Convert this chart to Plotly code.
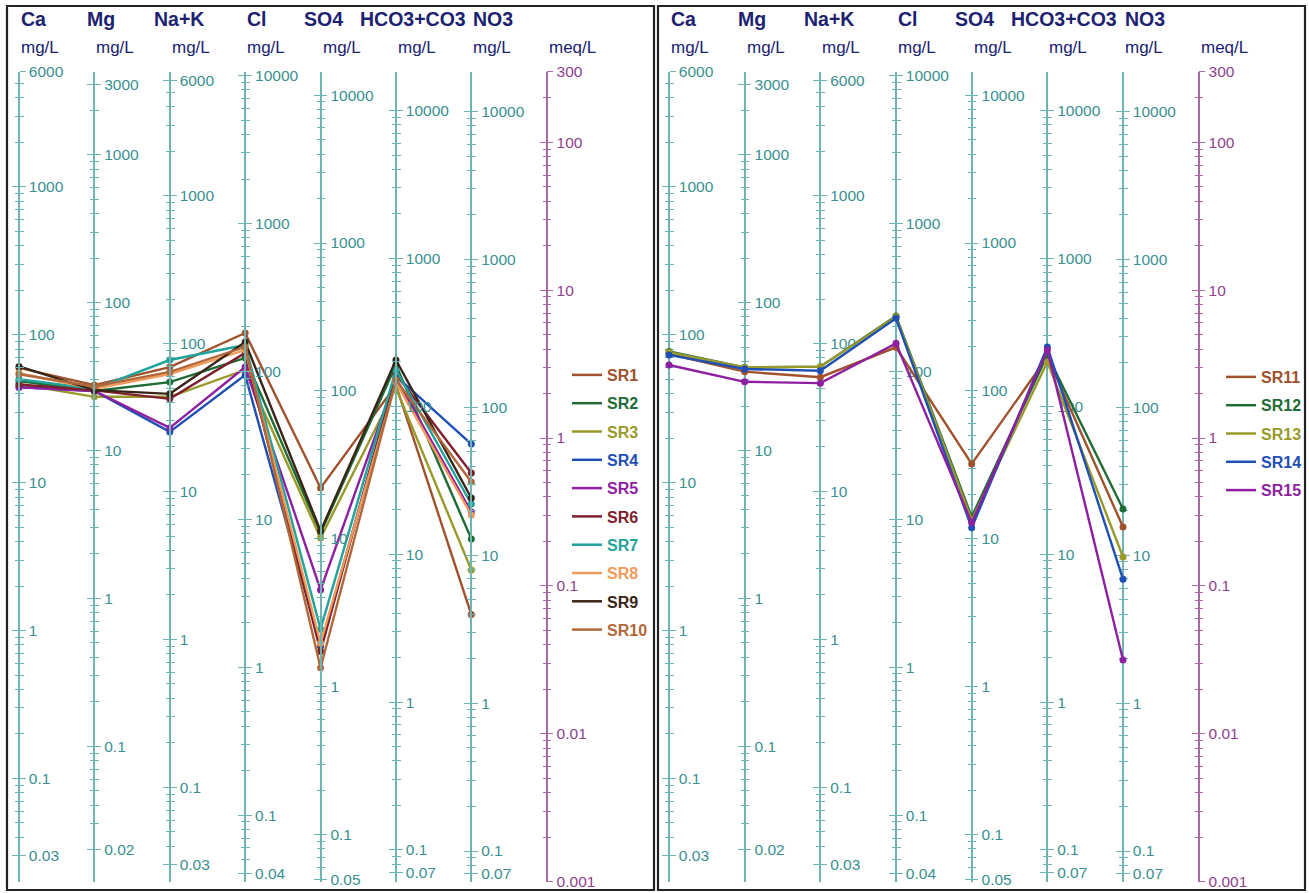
import math
import plotly.graph_objects as go

W, H = 1309, 893
FONT = "Liberation Sans, Arial, sans-serif"

# ---------------- data (meq/L) ----------------
PARAMS = ["Ca", "Mg", "Na+K", "Cl", "SO4", "HCO3+CO3", "NO3"]
EQ_WEIGHT = [20.04, 12.15, 22.99, 35.45, 48.03, 61.02, 62.00]   # mg per meq

MG_TICKS = [
    [6000, 1000, 100, 10, 1, 0.1, 0.03],
    [3000, 1000, 100, 10, 1, 0.1, 0.02],
    [6000, 1000, 100, 10, 1, 0.1, 0.03],
    [10000, 1000, 100, 10, 1, 0.1, 0.04],
    [10000, 1000, 100, 10, 1, 0.1, 0.05],
    [10000, 1000, 100, 10, 1, 0.1, 0.07],
    [10000, 1000, 100, 10, 1, 0.1, 0.07],
]
MEQ_TICKS = [300, 100, 10, 1, 0.1, 0.01, 0.001]
MEQ_RANGE = [0.001, 300]

SAMPLES_A = ["SR1", "SR2", "SR3", "SR4", "SR5", "SR6", "SR7", "SR8", "SR9", "SR10"]
VALUES_A = [
    [2.98, 2.28, 3.02, 5.13, 0.460, 2.28, 0.064],
    [2.43, 2.08, 2.39, 3.48, 0.228, 3.12, 0.208],
    [2.32, 1.90, 1.90, 2.89, 0.211, 2.18, 0.128],
    [2.21, 2.08, 1.10, 2.67, 0.039, 2.63, 0.910],
    [2.20, 2.08, 1.17, 3.02, 0.094, 2.55, 0.316],
    [2.30, 2.10, 1.84, 3.76, 0.036, 2.71, 0.580],
    [2.50, 2.15, 3.37, 4.26, 0.051, 2.89, 0.358],
    [2.74, 2.15, 2.71, 3.94, 0.041, 2.39, 0.302],
    [3.05, 2.11, 1.99, 4.46, 0.235, 3.37, 0.393],
    [2.70, 2.23, 2.80, 4.13, 0.028, 2.47, 0.504],
]
COLORS_A = ["#A0522D", "#1E6B35", "#9A9A2A", "#1F4FB4", "#8E1FA0",
            "#7E1E2E", "#1FA39A", "#F29A5A", "#3A2418", "#B0683A"]

SAMPLES_B = ["SR11", "SR12", "SR13", "SR14", "SR15"]
VALUES_B = [
    [3.70, 2.81, 2.58, 4.11, 0.668, 3.53, 0.250],
    [3.85, 3.00, 3.04, 6.69, 0.293, 3.64, 0.331],
    [3.80, 3.00, 3.04, 6.60, 0.279, 3.27, 0.157],
    [3.65, 2.93, 2.85, 6.45, 0.247, 4.13, 0.111],
    [3.12, 2.40, 2.35, 4.37, 0.267, 3.94, 0.0316],
]
COLORS_B = ["#A0522D", "#1E6B35", "#9A9A2A", "#1F4FB4", "#8E1FA0"]

# ---------------- layout geometry ----------------
Y_TOP_PX, Y_BOT_PX = 71.7, 881.7
YDOM = [1 - Y_BOT_PX / H, 1 - Y_TOP_PX / H]
PANELS = [
    dict(x0=19.0, step=75.39, dom=[0, 0.5], xa="x", ya="y"),
    dict(x0=669.0, step=75.67, dom=[0.5, 1.0], xa="x2", ya="y2"),
]
HEADER_OFFSET = [0, -9, -18, 0, -19, -38, 0]

TEAL_LINE = "#6FB3B3"
TEAL_TEXT = "#3A9090"
PURPLE_LINE = "#A56AA5"
PURPLE_TEXT = "#8E3F8E"
NAVY = "#1C2270"


def fmt(v):
    return "%g" % v


def minor_vals(lo, hi, major):
    out = []
    k0 = int(math.floor(math.log10(lo))) - 1
    k1 = int(math.ceil(math.log10(hi))) + 1
    for k in range(k0, k1 + 1):
        for d in range(1, 10):
            v = float("%.10g" % (d * 10.0 ** k))
            if lo * 0.999 <= v <= hi * 1.001 and all(abs(v - m) > 1e-9 * max(1, m) for m in major):
                out.append(v)
    return out


fig = go.Figure()
layout = {}
shapes = []
annotations = []

axis_counter = [3]


def add_column_axes(pos_px, lo, hi, major, line_c, text_c):
    rng = [math.log10(lo), math.log10(hi)]
    minors = minor_vals(min(major), max(major), major)
    common = dict(type="log", range=rng, domain=YDOM, overlaying="y",
                  anchor="free", position=pos_px / W, side="right",
                  showgrid=False, zeroline=False, fixedrange=True,
                  automargin=False, tickmode="array", tickvals=major)
    ia = axis_counter[0]
    ib = ia + 1
    axis_counter[0] += 2
    layout["yaxis%d" % ia] = dict(
        common, ticktext=[fmt(v) for v in major], ticks="outside", ticklen=6,
        tickwidth=1.3, tickcolor=line_c, showline=True, linecolor=line_c,
        linewidth=1.5, tickfont=dict(size=15.5, color=text_c, family=FONT),
        minor=dict(tickmode="array", tickvals=minors, ticks="outside",
                   ticklen=4, tickwidth=1.3, tickcolor=line_c))
    layout["yaxis%d" % ib] = dict(
        common, showticklabels=False, ticks="inside", ticklen=7,
        tickwidth=1.3, tickcolor=line_c, showline=False,
        minor=dict(tickmode="array", tickvals=minors, ticks="inside",
                   ticklen=4, tickwidth=1.3, tickcolor=line_c))
    for i in (ia, ib):
        fig.add_trace(go.Scatter(x=[None], y=[None], xaxis="x", yaxis="y%d" % i,
                                 showlegend=False, hoverinfo="skip"))


for p_i, (panel, samples, values, colors) in enumerate(
        [(PANELS[0], SAMPLES_A, VALUES_A, COLORS_A),
         (PANELS[1], SAMPLES_B, VALUES_B, COLORS_B)]):
    x0, step = panel["x0"], panel["step"]
    dom = panel["dom"]
    left_px, right_px = dom[0] * W, dom[1] * W
    xr = [(left_px - x0) / step, (right_px - x0) / step]
    xname = "xaxis" if p_i == 0 else "xaxis2"
    yname = "yaxis" if p_i == 0 else "yaxis2"
    layout[xname] = dict(domain=dom, range=xr, visible=False, fixedrange=True,
                         automargin=False, anchor=panel["ya"])
    layout[yname] = dict(domain=YDOM, type="log",
                         range=[math.log10(MEQ_RANGE[0]), math.log10(MEQ_RANGE[1])],
                         visible=False, fixedrange=True, automargin=False,
                         anchor=panel["xa"])

    # mg/L axes
    for c, (name, ew, ticks) in enumerate(zip(PARAMS, EQ_WEIGHT, MG_TICKS)):
        pos = x0 + step * c
        add_column_axes(pos, MEQ_RANGE[0] * ew, MEQ_RANGE[1] * ew, ticks,
                        TEAL_LINE, TEAL_TEXT)
        annotations.append(dict(text=name, x=(pos + HEADER_OFFSET[c]) / W, y=1 - 19 / H,
                                xref="paper", yref="paper", xanchor="left", yanchor="middle",
                                showarrow=False,
                                font=dict(size=19.5, color=NAVY, family=FONT, weight="bold")))
        annotations.append(dict(text="mg/L", x=pos / W, y=1 - 48 / H,
                                xref="paper", yref="paper", xanchor="left", yanchor="middle",
                                showarrow=False,
                                font=dict(size=17, color=NAVY, family=FONT)))
    # meq/L axis
    pos = x0 + step * len(PARAMS)
    add_column_axes(pos, MEQ_RANGE[0], MEQ_RANGE[1], MEQ_TICKS, PURPLE_LINE, PURPLE_TEXT)
    annotations.append(dict(text="meq/L", x=pos / W, y=1 - 48 / H,
                            xref="paper", yref="paper", xanchor="left", yanchor="middle",
                            showarrow=False, font=dict(size=17, color=NAVY, family=FONT)))

    legend_name = "legend" if p_i == 0 else "legend2"
    for s, v, col in zip(samples, values, colors):
        fig.add_trace(go.Scatter(
            x=list(range(len(PARAMS))), y=v, xaxis=panel["xa"], yaxis=panel["ya"],
            mode="lines+markers", line=dict(color=col, width=2.4),
            marker=dict(color=col, size=7), showlegend=False, name=s,
            hovertemplate=s + ": %{y:.3g} meq/L<extra></extra>"))
    for s, col in zip(samples, colors):
        fig.add_trace(go.Scatter(
            x=[None], y=[None], xaxis=panel["xa"], yaxis=panel["ya"], mode="lines",
            line=dict(color=col, width=2.5), legend=legend_name, legendgroup=s,
            name='<span style="color:%s">%s</span>' % (col, s)))

# panel frames
for (a, b) in [(7, 654), (658, 1305)]:
    shapes.append(dict(type="rect", xref="paper", yref="paper",
                       x0=a / W, x1=b / W, y0=1 - 890 / H, y1=1 - 6 / H,
                       line=dict(color="#222222", width=2.2), fillcolor="rgba(0,0,0,0)"))

legend_common = dict(xanchor="left", yanchor="top", bgcolor="rgba(0,0,0,0)",
                     borderwidth=0, tracegroupgap=4.5, itemwidth=30,
                     font=dict(size=16, family=FONT, weight="bold"))
layout["legend"] = dict(legend_common, x=567 / W, y=1 - 358 / H)
layout["legend2"] = dict(legend_common, x=1221 / W, y=1 - 360 / H)

fig.update_layout(width=W, height=H, margin=dict(l=0, r=0, t=0, b=0, autoexpand=False),
                  paper_bgcolor="white", plot_bgcolor="rgba(0,0,0,0)",
                  shapes=shapes, annotations=annotations, showlegend=True,
                  font=dict(family=FONT), **layout)

fig.write_html("out.html", config={"displayModeBar": False},
               post_script="document.body.style.margin='0';document.body.style.overflow='hidden';")
